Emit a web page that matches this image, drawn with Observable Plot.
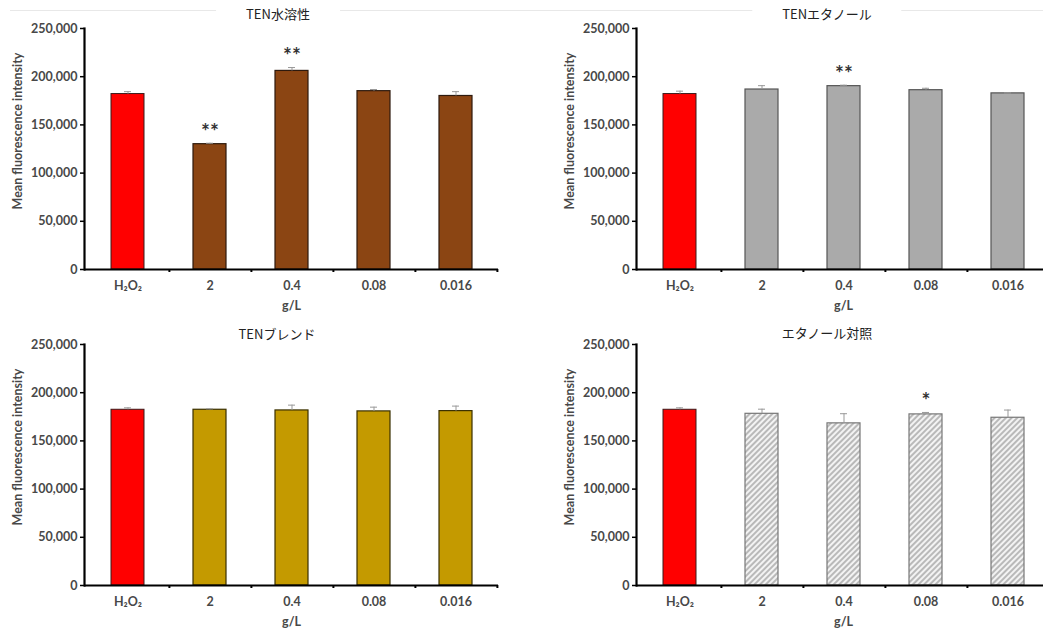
<!DOCTYPE html>
<html>
<head>
<meta charset="utf-8">
<script src="https://cdn.jsdelivr.net/npm/d3@7"></script>
<script src="https://cdn.jsdelivr.net/npm/@observablehq/plot@0.6"></script>
<style>
  html, body { margin: 0; padding: 0; background: #fff; }
  body { width: 1043px; height: 629px; overflow: hidden; position: relative; }
  .panel { position: absolute; width: 520px; height: 316px; }
  .panel svg { overflow: visible; max-width: none !important; }
  .title { position: absolute; transform: translate(-50%, -50%); font-family: "Noto Sans CJK JP", "Noto Sans", sans-serif; font-size: 13px; color: #222; background: #fff; padding: 0 30px; white-space: nowrap; line-height: 16px; }
  .topline { position: absolute; top: 10px; left: 10px; width: 1033px; height: 1px; background: #e8e8e8; }
</style>
</head>
<body>
<div class="topline"></div>
<script>
// ---- data ----
const categories = ["H₂O₂", "2", "0.4", "0.08", "0.016"];
const yTicks = [0, 50000, 100000, 150000, 200000, 250000];
const xLabel = "g/L";
const yLabel = "Mean fluorescence intensity";

const titleWater = "TEN水溶性";
const valuesWater = [182000, 130000, 206000, 185000, 180000];
const errWater = [2500, 1000, 3500, 1700, 4500];
const sigWater = ["", "**", "**", "", ""];

const titleEthanol = "TENエタノール";
const valuesEthanol = [182000, 186700, 190200, 186000, 182700];
const errEthanol = [3000, 4000, 1000, 2000, 500];
const sigEthanol = ["", "", "**", "", ""];

const titleBlend = "TENブレンド";
const valuesBlend = [182300, 182300, 181600, 180600, 180900];
const errBlend = [2000, 1000, 5500, 4400, 5200];
const sigBlend = ["", "", "", "", ""];

const titleControl = "エタノール対照";
const valuesControl = [182300, 178100, 168200, 177500, 174000];
const errControl = [2000, 4800, 10000, 2000, 8000];
const sigControl = ["", "", "", "*", ""];

// ---- drawing ----
const W = 520, H = 316, ML = 84, MR = 22, MT = 28, MB = 47;
const step = (W - ML - MR) / categories.length;
const font = "Lato, 'DejaVu Sans', sans-serif";
const textColor = "#484848";

function panel(values, errs, sig, fill, stroke, hatched) {
  const data = categories.map((c, i) => ({cat: c, value: values[i], err: errs[i], sig: sig[i]}));
  const defs = () => {
    const d = d3.create("svg:defs");
    const p = d.append("pattern").attr("id", "hatch").attr("patternUnits", "userSpaceOnUse")
      .attr("width", 4).attr("height", 4).attr("patternTransform", "rotate(45)");
    p.append("rect").attr("width", 4).attr("height", 4).attr("fill", "#f3f3f3");
    p.append("line").attr("x1", 1).attr("y1", 0).attr("x2", 1).attr("y2", 4).attr("stroke", "#9a9a9a").attr("stroke-width", 1.3);
    return d.node();
  };
  return Plot.plot({
    width: W, height: H, marginLeft: ML, marginRight: MR, marginTop: MT, marginBottom: MB,
    style: {fontFamily: font, fontSize: "12.5px", fontWeight: "bold", color: textColor, background: "transparent", overflow: "visible"},
    x: {domain: categories, paddingInner: 0.6, paddingOuter: 0.3, label: null},
    y: {domain: [0, 250000], label: null},
    marks: [
      defs,
      Plot.barY(data.filter(d => d.cat === categories[0]), {x: "cat", y: "value", fill: "#ff0000", stroke: "#3a1a1a", strokeWidth: 1}),
      Plot.barY(data.filter(d => d.cat !== categories[0]), {x: "cat", y: "value", fill: hatched ? "url(#hatch)" : fill, stroke: stroke, strokeWidth: 1.2}),
      Plot.ruleX(data, {x: "cat", y1: "value", y2: d => d.value + d.err, stroke: "#999", strokeWidth: 1}),
      Plot.tickY(data, {x: "cat", y: d => d.value + d.err, stroke: "#999", strokeWidth: 1, insetLeft: 13, insetRight: 13}),
      Plot.text(data, {x: "cat", y: d => d.value + d.err, text: "sig", dy: -11, fontSize: 21, fontWeight: "bold", fill: "#333", lineAnchor: "middle"}),
      Plot.axisY({ticks: yTicks, tickFormat: d3.format(","), tickSize: 4, tickPadding: 3, stroke: "#000", strokeWidth: 1.5, label: null}),
      Plot.axisX({tickSize: 0, tickPadding: 12, label: null}),
      Plot.ruleX(categories, {x: d => d, dx: step / 2, insetTop: H - MT - MB, insetBottom: -3, stroke: "#000", strokeWidth: 2}),
      Plot.ruleY([0], {stroke: "#000", strokeWidth: 2.2}),
      Plot.frame({anchor: "left", stroke: "#000", strokeWidth: 2.2}),
      Plot.text([xLabel], {frameAnchor: "bottom", dy: 36, fontSize: 12.5, fontWeight: "bold", fill: textColor, lineAnchor: "middle"}),
      Plot.text([yLabel], {frameAnchor: "left", textAnchor: "middle", rotate: -90, dx: -67, dy: -18, fontSize: 12.5, fontWeight: "bold", fill: textColor, lineAnchor: "middle"})
    ]
  });
}

const panels = [
  {left: 0, top: 0, title: titleWater, tx: 278, ty: 14, chart: panel(valuesWater, errWater, sigWater, "#8b4513", "#2e1a0e", false)},
  {left: 552, top: 0, title: titleEthanol, tx: 827, ty: 14, chart: panel(valuesEthanol, errEthanol, sigEthanol, "#aaaaaa", "#555", false)},
  {left: 0, top: 316, title: titleBlend, tx: 277, ty: 334, chart: panel(valuesBlend, errBlend, sigBlend, "#c49a00", "#3a3000", false)},
  {left: 552, top: 316, title: titleControl, tx: 827, ty: 333, chart: panel(valuesControl, errControl, sigControl, null, "#777", true)}
];

for (const p of panels) {
  const div = document.createElement("div");
  div.className = "panel";
  div.style.left = p.left + "px";
  div.style.top = p.top + "px";
  div.appendChild(p.chart);
  document.body.appendChild(div);
  const t = document.createElement("div");
  t.className = "title";
  t.textContent = p.title;
  t.style.left = p.tx + "px";
  t.style.top = p.ty + "px";
  document.body.appendChild(t);
}
</script>
</body>
</html>
